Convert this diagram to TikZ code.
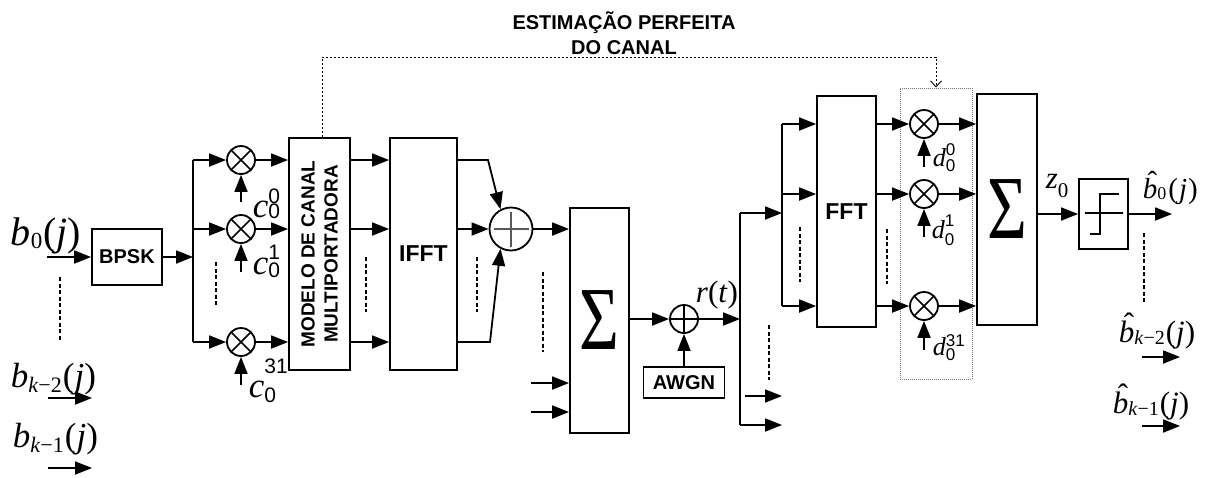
\documentclass[tikz,border=0pt]{standalone}
\usepackage{fontspec}
\setmainfont{Liberation Serif}
\setsansfont{Liberation Sans}
\usetikzlibrary{arrows.meta,calc}
\newcommand\fs[1]{\fontsize{#1}{#1}\selectfont}
% base, sup, sub, raise, lower, size
\newcommand\ix[6]{#1\makebox[0pt][l]{\raisebox{#4}{\sffamily\fs{#6}#2}}\raisebox{-#5}{\sffamily\fs{#6}#3}}
\newcommand\hb{\leavevmode\rlap{\hspace{0.16em}\raisebox{0.24em}{ˆ}}\textit{b}}
\begin{document}
\begin{tikzpicture}[x=1pt,y=-1pt,line width=1.8pt,
  arr/.style={-{Triangle[length=17pt,width=13pt]}},
  blk/.style={draw,rectangle,inner sep=0pt,line width=1.8pt},
  bsf/.style={font=\sffamily\bfseries\fs{20}},
  bsfl/.style={font=\sffamily\bfseries\fs{23}},
  mul/.style={draw,circle,minimum size=28pt,inner sep=0pt,line width=1.8pt,
    path picture={\draw[line width=1.5pt] (path picture bounding box.north west) -- (path picture bounding box.south east)
      (path picture bounding box.north east) -- (path picture bounding box.south west);}},
  dsh/.style={line width=1.6pt,dash pattern=on 4pt off 2.5pt},
  lab/.style={inner sep=0pt,anchor=base west},
  sig/.style={font=\fs{90}},
  fb/.style={line width=0.9pt,dash pattern=on 2.5pt off 1.5pt},
]
\useasboundingbox (0,0) rectangle (1215,477);

% title
\node[font=\sffamily\bfseries\fontsize{20}{25}\selectfont,align=center] (est) at (624,33) {ESTIMAÇÃO PERFEITA\\DO CANAL};

% ---------- left inputs
\node[lab] (lb0) at (10,245) {\fs{40}\textit{b}\raisebox{-3pt}{\fs{23}0}\hspace{1pt}(\textit{j})};
\node[lab] (lb1) at (10,387) {\fs{35}\textit{b}\raisebox{-5pt}{\fs{22}\textit{k}−2}\hspace{1pt}(\textit{j})};
\node[lab] (lb2) at (12,447) {\fs{35}\textit{b}\raisebox{-5pt}{\fs{22}\textit{k}−1}\hspace{1pt}(\textit{j})};
\coordinate (in0) at (47,257);
\coordinate (in1a) at (48,398); \coordinate (in1b) at (92,398);
\coordinate (in2a) at (48,468); \coordinate (in2b) at (92,468);
\draw[arr] (in1a) -- (in1b);
\draw[arr] (in2a) -- (in2b);
\draw[dsh] (60,277) -- (60,340);

\node[blk,minimum width=70pt,minimum height=56pt,bsf] (bpsk) at (127,257) {BPSK};
\draw[arr] (in0) -- (bpsk.west);

\coordinate (sp1) at (193,257);
\coordinate (sp1t) at (193,160);
\coordinate (sp1m) at (193,229);
\coordinate (sp1b) at (193,342);
\draw[arr] (bpsk.east) -- (sp1);
\draw (sp1t) -- (sp1b);

\node[mul] (c0) at (241,160) {};
\node[mul] (c1) at (241,229) {};
\node[mul] (c2) at (241,342) {};
\draw[arr] (sp1t) -- (c0.west);
\draw[arr] (sp1m) -- (c1.west);
\draw[arr] (sp1b) -- (c2.west);
\draw[dsh] (216,262) -- (216,307);

\coordinate (c0u) at (241,202);
\coordinate (c1u) at (241,272);
\coordinate (c2u) at (241,385);
\draw[arr] (c0u) -- (c0.south);
\draw[arr] (c1u) -- (c1.south);
\draw[arr] (c2u) -- (c2.south);
\node[lab] (lc0) at (252,217) {\fs{35}\ix{\textit{c}}{0}{0}{14pt}{1pt}{21}};
\node[lab] (lc1) at (252,274) {\fs{35}\ix{\textit{c}}{1}{0}{15pt}{3pt}{21}};
\node[lab] (lc2) at (248,397) {\fs{35}\ix{\textit{c}}{31}{0}{24pt}{5pt}{21}};

% ---------- channel model and IFFT
\node[blk,minimum width=61pt,minimum height=232pt] (modelo) at (319.5,254) {};
\node[rotate=90,align=center,font=\sffamily\bfseries\fontsize{19}{23}\selectfont] (modelotxt) at (modelo.center) {MODELO DE CANAL\\MULTIPORTADORA};
\draw[arr] (c0.east) -- (c0 -| modelo.west);
\draw[arr] (c1.east) -- (c1 -| modelo.west);
\draw[arr] (c2.east) -- (c2 -| modelo.west);

\node[blk,minimum width=67pt,minimum height=232pt,bsfl] (ifft) at (423.5,254) {IFFT};
\draw[arr] (c0 -| modelo.east) -- (c0 -| ifft.west);
\draw[arr] (c1 -| modelo.east) -- (c1 -| ifft.west);
\draw[arr] (c2 -| modelo.east) -- (c2 -| ifft.west);
\draw[dsh] (366,257) -- (366,312);

\node[draw,circle,minimum size=43pt,inner sep=0pt,line width=1.8pt,
  path picture={\draw[line width=1.6pt,black!65] ($(path picture bounding box.west)+(4pt,0)$) -- ($(path picture bounding box.east)+(-4pt,0)$)
   ($(path picture bounding box.north)+(0,-4pt)$) -- ($(path picture bounding box.south)+(0,4pt)$);}] (add1) at (511,229) {};
\coordinate (it) at (488,160);
\coordinate (ib) at (490,342);
\draw[arr] (c0 -| ifft.east) -- (it) -- (add1.118);
\draw[arr] (c1 -| ifft.east) -- (add1.west);
\draw[arr] (c2 -| ifft.east) -- (ib) -- (add1.242);
\draw[dsh] (477,257) -- (477,312);

% ---------- first sum
\node[blk,minimum width=59pt,minimum height=225pt,sig] (sig1) at (599.5,320.5) {\scalebox{0.76}[1]{Σ}};
\draw[arr] (add1.east) -- (add1.east -| sig1.west);
\draw[dsh] (543,272) -- (543,352);
\coordinate (s1a) at (531,383);
\coordinate (s1b) at (531,412);
\draw[arr] (s1a) -- (s1a -| sig1.west);
\draw[arr] (s1b) -- (s1b -| sig1.west);

\node[draw,circle,minimum size=28pt,inner sep=0pt,line width=1.8pt,
  path picture={\draw[line width=1.2pt] (path picture bounding box.west) -- (path picture bounding box.east)
   (path picture bounding box.north) -- (path picture bounding box.south);}] (add2) at (684,319) {};
\draw[arr] (sig1.east |- add2) -- (add2.west);
\node[blk,minimum width=81pt,minimum height=31pt,bsf] (awgn) at (684,382.5) {AWGN};
\draw[arr] (awgn.north) -- (add2.south);
\node[lab] (rt) at (695,302) {\fs{31}\textit{r}(\textit{t})};

\coordinate (sp2) at (740,319);
\coordinate (sp2t) at (740,213);
\coordinate (sp2b) at (740,425);
\draw[arr] (add2.east) -- (sp2);
\draw (sp2t) -- (sp2b);
\coordinate (sp3) at (782,213);
\draw[arr] (sp2t) -- (sp3);
\coordinate (o1) at (782,425);
\draw[arr] (sp2b) -- (o1);
\coordinate (o2a) at (745,396); \coordinate (o2b) at (782,396);
\draw[arr] (o2a) -- (o2b);
\draw[dsh] (769,325) -- (769,380);

\coordinate (sp3t) at (782,124);
\coordinate (sp3m) at (782,194);
\coordinate (sp3b) at (782,306);
\draw (sp3t) -- (sp3b);

% ---------- FFT
\node[blk,minimum width=59pt,minimum height=231pt,bsfl] (fft) at (846.5,211.5) {FFT};
\draw[arr] (sp3t) -- (sp3t -| fft.west);
\draw[arr] (sp3m) -- (sp3m -| fft.west);
\draw[arr] (sp3b) -- (sp3b -| fft.west);
\draw[dsh] (800,227) -- (800,282);

\node[draw=black!55,line width=1pt,dash pattern=on 1pt off 1pt,minimum width=72pt,minimum height=291pt,inner sep=0pt] (dbox) at (936,233.5) {};

\node[mul] (d0) at (924,124) {};
\node[mul] (d1) at (924,194) {};
\node[mul] (d2) at (924,306) {};
\draw[arr] (d0 -| fft.east) -- (d0.west);
\draw[arr] (d1 -| fft.east) -- (d1.west);
\draw[arr] (d2 -| fft.east) -- (d2.west);
\draw[dsh] (887,229) -- (887,284);
\coordinate (d0u) at (924,167);
\coordinate (d1u) at (924,237);
\coordinate (d2u) at (924,350);
\draw[arr] (d0u) -- (d0.south);
\draw[arr] (d1u) -- (d1.south);
\draw[arr] (d2u) -- (d2.south);
\node[lab] (ld0) at (932,166) {\fs{26}\ix{\textit{d}}{0}{0}{11pt}{5pt}{17}};
\node[lab] (ld1) at (931,238) {\fs{26}\ix{\textit{d}}{1}{0}{12pt}{7pt}{17}};
\node[lab] (ld2) at (932,355) {\fs{26}\ix{\textit{d}}{31}{0}{9pt}{5pt}{17}};

% ---------- second sum and decision
\node[blk,minimum width=60pt,minimum height=231pt,sig] (sig2) at (1007,209.5) {\scalebox{0.76}[1]{Σ}};
\draw[arr] (d0.east) -- (d0 -| sig2.west);
\draw[arr] (d1.east) -- (d1 -| sig2.west);
\draw[arr] (d2.east) -- (d2 -| sig2.west);

\node[blk,minimum width=49pt,minimum height=70pt] (dec) at (1103.5,214) {};
\draw[arr] (sig2.east |- dec.west) -- (dec.west);
\draw (1085,213) -- (1123,213);
\draw (1090,234) -- (1100,234) -- (1100,194) -- (1119,194);
\node[lab] (lz) at (1045,188) {\fs{31}\textit{z}\raisebox{-9pt}{\fs{21}0}};

\coordinate (out0) at (1172,214);
\draw[arr] (dec.east) -- (out0);
\node[lab] (lo0) at (1142,198) {\fs{29}\hb\raisebox{-1pt}{\fs{18}0}\hspace{2pt}(\hspace{1pt}\textit{j}\hspace{1pt})};
\draw[dsh] (1144,233) -- (1144,302);
\node[lab] (lo1) at (1118,342) {\fs{31}\hb\raisebox{-2pt}{\fs{20}\textit{k}−2}\hspace{1pt}(\textit{j})};
\node[lab] (lo2) at (1112,413) {\fs{31}\hb\raisebox{-2pt}{\fs{20}\textit{k}−1}\hspace{1pt}(\textit{j})};
\coordinate (oa1) at (1142,357); \coordinate (ob1) at (1180,357);
\coordinate (oa2) at (1142,426); \coordinate (ob2) at (1180,426);
\draw[arr] (oa1) -- (ob1);
\draw[arr] (oa2) -- (ob2);

% ---------- feedback (perfect channel estimation)
\coordinate (fbL) at (322,57);
\coordinate (fbR) at (936,57);
\draw[fb,-{Straight Barb[length=6pt,width=11pt,line width=0.9pt]}] (fbL |- modelo.north) -- (fbL) -- (fbR) -- (dbox.north);
\end{tikzpicture}
\end{document}
